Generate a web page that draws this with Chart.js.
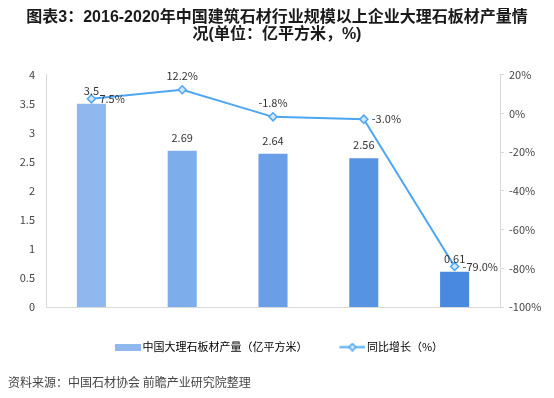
<!DOCTYPE html>
<html>
<head>
<meta charset="utf-8">
<script src="https://cdn.jsdelivr.net/npm/chart.js@4.4.1/dist/chart.umd.min.js"></script>
<style>
  html, body { margin: 0; padding: 0; background: #fff; }
  #wrap { position: relative; width: 554px; height: 398px; }
</style>
</head>
<body>
<div id="wrap"><canvas id="myChart" width="554" height="398"></canvas></div>
<script>
// datos
const categorias = ['2016', '2017', '2018', '2019', '2020Q1'];
const produccion = [3.5, 2.69, 2.64, 2.56, 0.61];
const crecimiento = [7.5, 12.2, -1.8, -3.0, -79.0];
const ticksIzq = [0, 0.5, 1, 1.5, 2, 2.5, 3, 3.5, 4];
const ticksDer = [-100, -80, -60, -40, -20, 0, 20];
// donde va la etiqueta de cada punto de la linea
const posEtiquetaLinea = ['right', 'top', 'top', 'right', 'right'];

const coloresBarras = ['#8fb8ef', '#7eadec', '#6a9fe7', '#5793e3', '#4a89e0'];
const colorLinea = '#4ea6f2';
const fuente = '"Noto Sans CJK SC", "Liberation Sans", sans-serif';

// muestra de la leyenda: barra y linea con rombo (con margen a la izquierda)
function muestraBarra() {
    const c = document.createElement('canvas');
    c.width = 34; c.height = 7;
    const g = c.getContext('2d');
    g.fillStyle = coloresBarras[0];
    g.fillRect(8, 0, 26, 7);
    return c;
}
function muestraLinea() {
    const c = document.createElement('canvas');
    c.width = 34; c.height = 9;
    const g = c.getContext('2d');
    g.strokeStyle = colorLinea;
    g.lineWidth = 2;
    g.beginPath(); g.moveTo(8, 4.5); g.lineTo(34, 4.5); g.stroke();
    g.fillStyle = '#cfe6fb';
    g.lineWidth = 1.5;
    g.beginPath();
    g.moveTo(21, 1); g.lineTo(24.5, 4.5); g.lineTo(21, 8); g.lineTo(17.5, 4.5); g.closePath();
    g.fill(); g.stroke();
    return c;
}

const etiquetas = {
    id: 'etiquetas',
    afterDatasetsDraw(chart) {
        const ctx = chart.ctx;
        ctx.save();
        ctx.font = '11px ' + fuente;
        ctx.fillStyle = '#333';
        // valores de las barras
        chart.getDatasetMeta(0).data.forEach((el, i) => {
            ctx.textAlign = 'center';
            ctx.textBaseline = 'middle';
            ctx.fillText(String(produccion[i]), el.x, el.y - 13);
        });
        // porcentajes de la linea
        chart.getDatasetMeta(1).data.forEach((el, i) => {
            const txt = crecimiento[i].toFixed(1) + '%';
            ctx.textBaseline = 'middle';
            if (posEtiquetaLinea[i] === 'top') {
                ctx.textAlign = 'center';
                ctx.fillText(txt, el.x, el.y - 14);
            } else {
                ctx.textAlign = 'left';
                ctx.fillText(txt, el.x + 8, el.y);
            }
        });
        ctx.restore();
    }
};

const ctx = document.getElementById('myChart').getContext('2d');
const chart = new Chart(ctx, {
    data: {
        labels: categorias,
        datasets: [{
            type: 'bar',
            label: '中国大理石板材产量（亿平方米）',
            data: produccion,
            backgroundColor: coloresBarras,
            yAxisID: 'y',
            categoryPercentage: 1,
            barPercentage: 0.32,
            order: 2
        }, {
            type: 'line',
            label: '同比增长（%）',
            data: crecimiento,
            borderColor: colorLinea,
            borderWidth: 2,
            pointStyle: 'rectRot',
            pointRadius: 4,
            pointBorderWidth: 1.5,
            pointBackgroundColor: '#cfe6fb',
            pointBorderColor: colorLinea,
            tension: 0,
            yAxisID: 'y1',
            order: 1
        }]
    },
    options: {
        responsive: false,
        animation: false,
        layout: { padding: { left: 8, right: 8, top: 0, bottom: 0 } },
        scales: {
            x: {
                afterFit: (axis) => { axis.height = 6.5; },
                grid: { display: false, drawTicks: false },
                border: { display: true, color: '#d9d9d9' },
                ticks: { color: '#444', font: { family: fuente, size: 11 }, padding: 8 }
            },
            y: {
                position: 'left',
                min: 0, max: 4,
                afterBuildTicks: (axis) => { axis.ticks = ticksIzq.map(v => ({ value: v })); },
                afterFit: (axis) => { axis.width = 38; },
                grid: { display: false, drawTicks: false },
                border: { display: true, color: '#d9d9d9' },
                ticks: {
                    color: '#444', font: { family: fuente, size: 11 }, padding: 11,
                    callback: (v) => String(v)
                }
            },
            y1: {
                position: 'right',
                min: -100, max: 20,
                afterBuildTicks: (axis) => { axis.ticks = ticksDer.map(v => ({ value: v })); },
                afterFit: (axis) => { axis.width = 46; },
                grid: { display: true, drawOnChartArea: false, drawTicks: true, tickLength: 4, color: '#d9d9d9' },
                border: { display: true, color: '#d9d9d9' },
                ticks: {
                    color: '#444', font: { family: fuente, size: 11 }, padding: 5,
                    callback: (v) => v + '%'
                }
            }
        },
        plugins: {
            title: {
                display: true,
                text: ['图表3：2016-2020年中国建筑石材行业规模以上企业大理石板材产量情', '况(单位：亿平方米，%)'],
                color: '#1a1a1a',
                font: { family: '"Liberation Sans", "Noto Sans CJK SC", sans-serif', size: 16, weight: 'bold', lineHeight: 1.05 },
                padding: { top: 9, bottom: 32 }
            },
            subtitle: {
                display: true,
                position: 'bottom',
                align: 'start',
                text: '资料来源：中国石材协会 前瞻产业研究院整理',
                color: '#444',
                font: { family: fuente, size: 12 },
                padding: { top: 13, bottom: 8 }
            },
            legend: {
                display: true,
                position: 'bottom',
                labels: {
                    usePointStyle: true,
                    pointStyleWidth: 26,
                    color: '#333',
                    font: { family: fuente, size: 11 },
                    padding: 28,
                    generateLabels: (chart) => chart.data.datasets.map((ds, i) => ({
                        text: ds.label,
                        pointStyle: i === 0 ? muestraBarra() : muestraLinea(),
                        fillStyle: 'transparent',
                        strokeStyle: 'transparent',
                        lineWidth: 0,
                        datasetIndex: i
                    }))
                }
            },
            tooltip: { enabled: false }
        }
    },
    plugins: [etiquetas]
});
</script>
</body>
</html>
